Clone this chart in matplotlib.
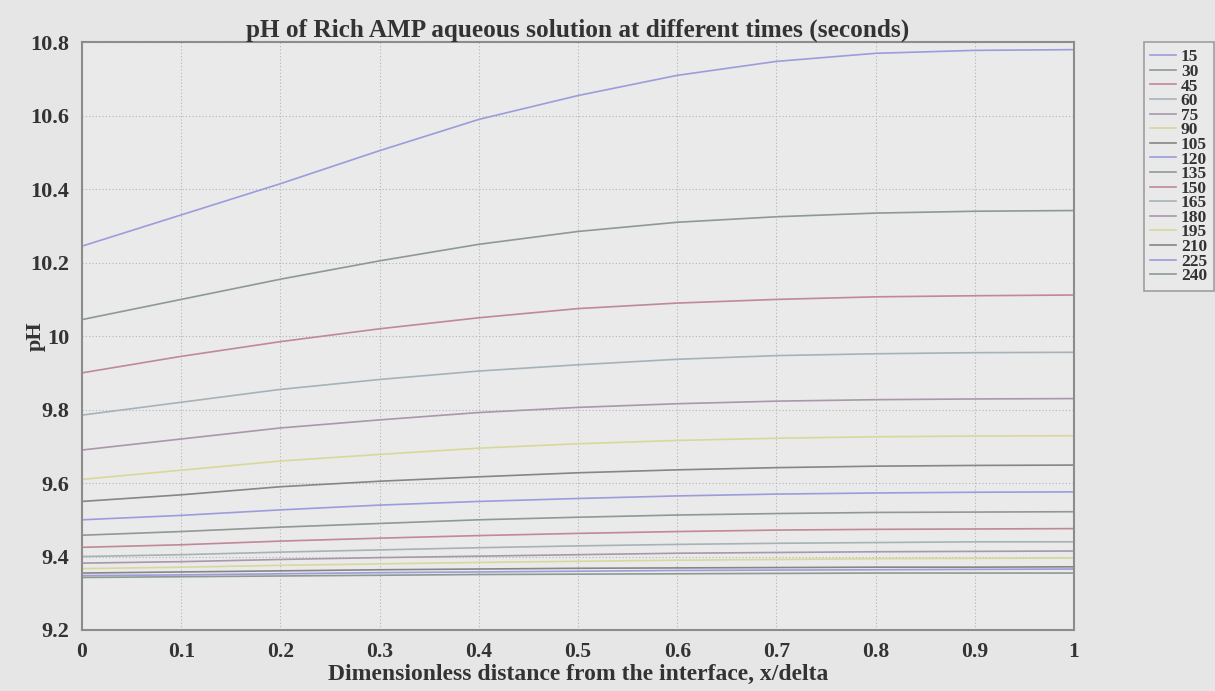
import numpy as np
import matplotlib
matplotlib.use("Agg")
import matplotlib.pyplot as plt

x = [0, 0.1, 0.2, 0.3, 0.4, 0.5, 0.6, 0.7, 0.8, 0.9, 1.0]
times = ["15", "30", "45", "60", "75", "90", "105", "120", "135", "150",
         "165", "180", "195", "210", "225", "240"]

ph_15 = [10.245, 10.33, 10.415, 10.505, 10.59, 10.655, 10.71, 10.748, 10.77, 10.778, 10.78]
ph_30 = [10.045, 10.10, 10.155, 10.205, 10.25, 10.285, 10.31, 10.325, 10.335, 10.34, 10.342]
ph_45 = [9.90, 9.945, 9.985, 10.02, 10.05, 10.075, 10.09, 10.10, 10.107, 10.11, 10.112]
ph_60 = [9.785, 9.82, 9.855, 9.882, 9.905, 9.922, 9.937, 9.947, 9.952, 9.955, 9.956]
ph_75 = [9.69, 9.72, 9.75, 9.772, 9.792, 9.806, 9.816, 9.823, 9.827, 9.829, 9.83]
ph_90 = [9.61, 9.635, 9.66, 9.678, 9.695, 9.707, 9.716, 9.722, 9.726, 9.728, 9.729]
ph_105 = [9.55, 9.568, 9.59, 9.605, 9.617, 9.628, 9.636, 9.642, 9.646, 9.648, 9.649]
ph_120 = [9.50, 9.512, 9.527, 9.54, 9.55, 9.558, 9.565, 9.57, 9.573, 9.575, 9.576]
ph_135 = [9.458, 9.468, 9.48, 9.49, 9.50, 9.507, 9.513, 9.517, 9.52, 9.521, 9.522]
ph_150 = [9.425, 9.432, 9.442, 9.45, 9.457, 9.463, 9.468, 9.472, 9.474, 9.475, 9.476]
ph_165 = [9.40, 9.405, 9.412, 9.418, 9.424, 9.429, 9.433, 9.436, 9.438, 9.44, 9.44]
ph_180 = [9.382, 9.386, 9.392, 9.397, 9.401, 9.405, 9.409, 9.411, 9.413, 9.414, 9.415]
ph_195 = [9.367, 9.371, 9.376, 9.38, 9.384, 9.387, 9.39, 9.392, 9.394, 9.395, 9.396]
ph_210 = [9.355, 9.358, 9.361, 9.364, 9.366, 9.368, 9.369, 9.37, 9.371, 9.371, 9.372]
ph_225 = [9.348, 9.35, 9.353, 9.356, 9.358, 9.36, 9.362, 9.363, 9.364, 9.365, 9.366]
ph_240 = [9.343, 9.345, 9.347, 9.349, 9.351, 9.352, 9.353, 9.354, 9.355, 9.355, 9.355]

series = [ph_15, ph_30, ph_45, ph_60, ph_75, ph_90, ph_105, ph_120,
          ph_135, ph_150, ph_165, ph_180, ph_195, ph_210, ph_225, ph_240]

xticks = [0, 0.1, 0.2, 0.3, 0.4, 0.5, 0.6, 0.7, 0.8, 0.9, 1]
xticklabels = ["0", "0.1", "0.2", "0.3", "0.4", "0.5", "0.6", "0.7", "0.8", "0.9", "1"]
yticks = [9.2, 9.4, 9.6, 9.8, 10.0, 10.2, 10.4, 10.6, 10.8]
yticklabels = ["9.2", "9.4", "9.6", "9.8", "10", "10.2", "10.4", "10.6", "10.8"]

# washed-out MATLAB default colour cycle (b g r c m y k)
cycle = ["#9c9cdc", "#8e9a90", "#c08898", "#a6b2b8", "#a898aa", "#d8d89c", "#868686"]

txt = "#333333"
plt.rcParams["font.family"] = ["Liberation Serif", "DejaVu Serif"]
plt.rcParams["font.weight"] = "bold"

fig = plt.figure(figsize=(12.15, 6.91), dpi=100, facecolor="#e6e6e6")
ax = fig.add_axes([0.0675, 0.0883, 0.8165, 0.8505], facecolor="#eaeaea")

for i, (lab, vals) in enumerate(zip(times, series)):
    ax.plot(x, vals, color=cycle[i % 7], lw=1.2, label=lab)

ax.set_xlim(0, 1)
ax.set_ylim(9.2, 10.8)
ax.set_xticks(xticks)
ax.set_xticklabels(xticklabels)
ax.set_yticks(yticks)
ax.set_yticklabels(yticklabels)
ax.tick_params(axis="x", labelsize=15.5, colors=txt, length=0, pad=9)
ax.tick_params(axis="y", labelsize=16, colors=txt, length=0, pad=9)
for lbl in ax.get_xticklabels() + ax.get_yticklabels():
    lbl.set_fontweight("bold")
ax.grid(True, color="#b4b4b4", linestyle=(0, (1, 2)), lw=0.8)
for s in ax.spines.values():
    s.set_color("#8c8c8c")
    s.set_linewidth(1.5)

ax.set_title("pH of Rich AMP aqueous solution at different times (seconds)",
             fontsize=18.2, fontweight="bold", color=txt, pad=3)
ax.set_xlabel("Dimensionless distance from the interface, x/delta",
              fontsize=17, fontweight="bold", color=txt, labelpad=1)
ax.set_ylabel("pH", fontsize=16, fontweight="bold", color=txt)
ax.yaxis.set_label_coords(-0.037, 0.5)

leg = ax.legend(loc="upper left", bbox_to_anchor=(1.07, 1.0),
                prop={"family": "Liberation Serif", "weight": "bold", "size": 12.5},
                handlelength=1.5, handletextpad=0.25, labelspacing=-0.09,
                borderpad=0.4, borderaxespad=0, frameon=True, fancybox=False)
leg.get_frame().set_facecolor("#eaeaea")
leg.get_frame().set_edgecolor("#8c8c8c")
leg.get_frame().set_linewidth(1.2)
for t in leg.get_texts():
    t.set_color(txt)

fig.savefig("out.png", dpi=100, facecolor=fig.get_facecolor())
